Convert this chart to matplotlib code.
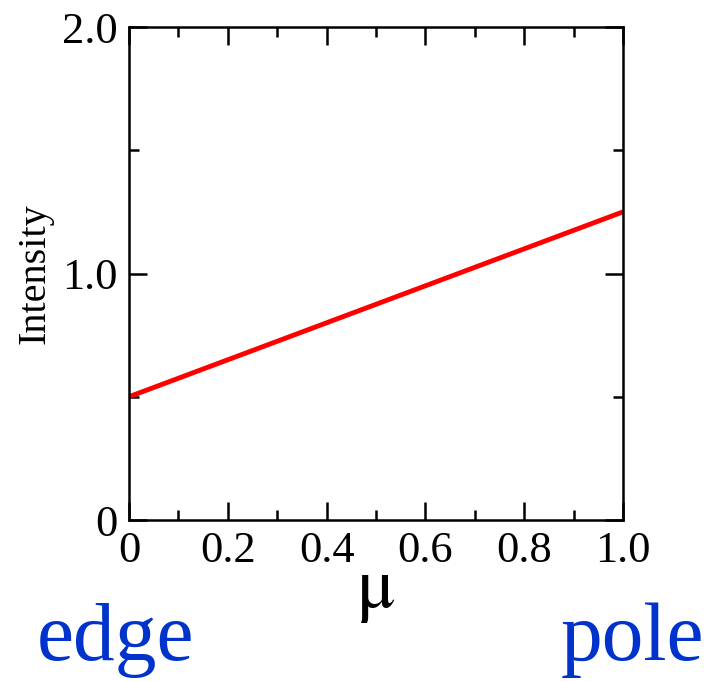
import matplotlib
matplotlib.use("Agg")
from matplotlib import pyplot as plt
from matplotlib.ticker import MultipleLocator, FixedFormatter, FixedLocator

mu = [0.0, 0.2, 0.4, 0.6, 0.8, 1.0]
intensity = [0.50, 0.65, 0.80, 0.95, 1.10, 1.25]

x_ticks = [0, 0.2, 0.4, 0.6, 0.8, 1.0]
x_labels = ['0', '0.2', '0.4', '0.6', '0.8', '1.0']
y_ticks = [0, 1.0, 2.0]
y_labels = ['0', '1.0', '2.0']

plt.rcParams['font.family'] = ['Liberation Serif', 'DejaVu Serif']
plt.rcParams['mathtext.fontset'] = 'stix'

fig = plt.figure(figsize=(7.15, 6.81), dpi=100)
ax = fig.add_axes([129 / 715, 1 - 520 / 681, 494 / 715, 493 / 681])

ax.plot(mu, intensity, color='#ff0000', linewidth=3.5, solid_capstyle='butt')

ax.set_xlim(0, 1.0)
ax.set_ylim(0, 2.0)
ax.xaxis.set_major_locator(FixedLocator(x_ticks))
ax.xaxis.set_major_formatter(FixedFormatter(x_labels))
ax.yaxis.set_major_locator(FixedLocator(y_ticks))
ax.yaxis.set_major_formatter(FixedFormatter(y_labels))
ax.xaxis.set_minor_locator(MultipleLocator(0.1))
ax.yaxis.set_minor_locator(MultipleLocator(0.5))

ax.tick_params(which='both', direction='in', top=True, right=True,
               width=1.8, labelsize=32, pad=8)
ax.tick_params(which='major', length=13)
ax.tick_params(which='minor', length=7)
for s in ax.spines.values():
    s.set_linewidth(1.8)

ax.set_ylabel('Intensity', fontsize=29, labelpad=6)
ax.set_xlabel(r'$\mathrm{\mu}$', fontsize=52, labelpad=-8)

fig.text(37 / 715, 1 - 660 / 681, 'edge', color='#0033cc', fontsize=60)
fig.text(704 / 715, 1 - 660 / 681, 'pole', color='#0033cc', fontsize=60, ha='right')

fig.savefig('out.png', dpi=100)
